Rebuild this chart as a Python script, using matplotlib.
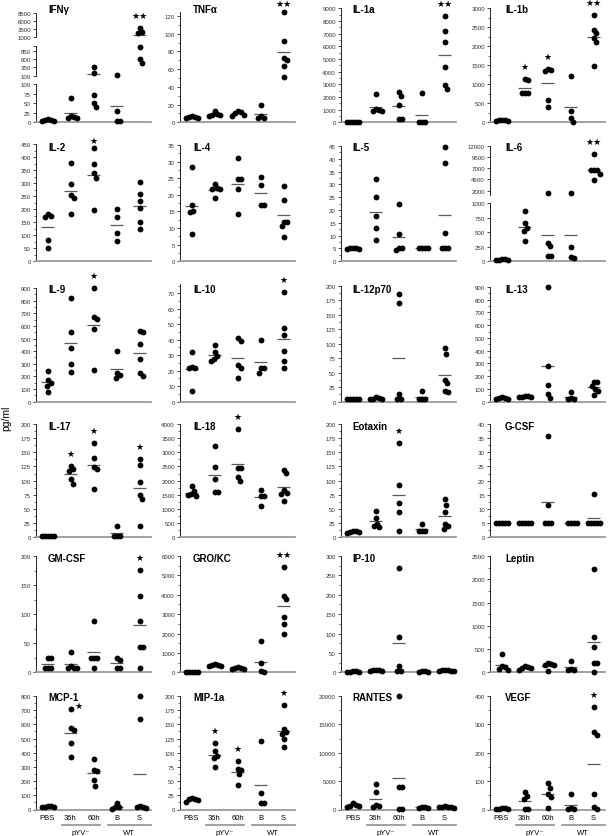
import numpy as np
import matplotlib
matplotlib.use('Agg')
import matplotlib.pyplot as plt
import matplotlib.transforms as mtransforms
from matplotlib.ticker import MultipleLocator, AutoMinorLocator, FixedLocator, FixedFormatter

plt.rcParams['font.family'] = ['Liberation Sans', 'DejaVu Sans']

groups = ['PBS', '36h', '60h', 'B', 'S']

# pg/ml per mouse, groups: PBS, pYV- 36h, pYV- 60h, WT B, WT S
ifng = [[8, 6, 5, 4, 3], [63, 16, 15, 12, 11], [370, 180, 71, 50, 39], [130, 29, 4, 4], [3870, 2600, 2400, 950, 600, 470]]
tnfa = [[7, 6, 6, 5, 5], [13, 9, 8, 8, 7], [12.5, 11.5, 10, 8.5, 7.5], [19, 7, 5, 5], [125, 92, 73, 70, 64, 51]]
il1a = [[30, 20, 20, 10, 10], [2210, 1050, 970, 920, 920], [2420, 2050, 1370, 260, 260], [2290, 50, 20, 10], [8420, 7180, 6370, 4340, 2950, 2630]]
il1b = [[70, 60, 50, 40, 40], [1140, 1105, 780, 770, 760], [1400, 1380, 1360, 600, 410], [1220, 290, 120, 20], [2825, 2430, 2340, 2210, 2120, 1490]]
il2 = [[181, 175, 170, 82, 52], [377, 297, 253, 243, 183], [435, 372, 337, 320, 196], [200, 170, 108, 76], [304, 257, 230, 204, 151, 124]]
il4 = [[28.5, 16.8, 15.2, 14.8, 8.3], [23.2, 22.2, 21.9, 21.7, 18.9], [31.2, 24.9, 24.9, 21.7, 14.2], [25.5, 23.1, 16.9, 16.9], [22.7, 18.5, 11.9, 11.9, 10.5, 7.4]]
il5 = [[5.3, 5, 5, 4.8, 4.8], [32, 25.2, 17.8, 13, 8.5], [22.3, 10.6, 5, 5, 4.6], [5, 5, 5, 5], [44.5, 38.3, 11.2, 5, 5, 5]]
il6 = [[40, 35, 30, 30, 25], [874, 655, 575, 517, 345], [1500, 316, 258, 86, 86], [1440, 245, 69, 52], [10100, 6600, 6500, 6500, 5800, 4300]]
il9 = [[246, 172, 148, 127, 74], [823, 550, 423, 299, 233], [902, 669, 651, 577, 254], [405, 230, 215, 185], [556, 550, 458, 339, 225, 201]]
il10 = [[32, 22.5, 22, 21.7, 7], [36.4, 32.1, 29.3, 27.8, 26.2], [41, 39.5, 23.5, 22, 15.2], [39.7, 21.7, 21.7, 18.6], [71, 47.7, 43, 32.5, 26.2, 21.7]]
il12 = [[5, 5, 5, 5, 5], [8, 6, 5, 5, 5], [186, 171, 13, 5, 5], [18, 5, 5, 5], [93, 83, 38, 32, 18, 17]]
il13 = [[34, 30, 28, 25, 22], [48, 45, 40, 36, 34], [900, 278, 131, 60, 26], [80, 28, 24, 22], [157, 155, 121, 100, 87, 52]]
il17 = [[3, 3, 3, 3, 3], [126, 120, 117, 103, 94], [166, 140, 124, 120, 86], [20, 3, 3, 3], [139, 128, 97, 74, 68, 20]]
il18 = [[1800, 1620, 1520, 1480, 1460], [3210, 2490, 2060, 1600, 1600], [3820, 2460, 2450, 2140, 1990], [1680, 1460, 1450, 1120], [2390, 2270, 1660, 1560, 1540, 1280]]
eotaxin = [[12, 11, 10, 9, 8], [47, 34, 24, 20, 18], [166, 93, 61, 45, 12], [24, 12, 11, 11], [67, 57, 45, 24, 20, 14]]
gcsf = [[5, 5, 5, 5, 5], [5, 5, 5, 5, 5], [35.6, 11.5, 5, 5, 5], [5, 5, 5, 5], [15.3, 5, 5, 5, 5, 5]]
gmcsf = [[25, 25, 8, 8, 8], [35, 10, 8, 8, 8], [88, 25, 25, 25, 8], [25, 21, 8, 8], [176, 131, 88, 44, 44, 8]]
grokc = [[30, 20, 15, 10, 10], [440, 400, 380, 340, 320], [290, 240, 210, 180, 150], [1620, 490, 90, 15], [5430, 3950, 3770, 2830, 2470, 1990]]
ip10 = [[3, 3, 2, 2, 1], [6, 5, 5, 4, 4], [269, 90, 17, 4, 4], [3, 3, 2, 2], [6, 5, 5, 4, 4, 3]]
leptin = [[390, 135, 110, 75, 40], [130, 115, 100, 85, 60], [205, 175, 160, 150, 25], [240, 75, 50, 50], [2230, 760, 540, 195, 190, 15]]
mcp1 = [[25, 22, 20, 18, 15], [707, 572, 560, 471, 373], [357, 280, 273, 205, 168], [47, 20, 15, 2], [800, 637, 22, 18, 15, 12]]
mip1a = [[21, 19, 18, 16, 14], [117, 103, 94, 91, 75], [86, 72, 70, 62, 44], [120, 29, 12, 12], [184, 142, 136, 133, 125, 110]]
rantes = [[1150, 860, 640, 600, 460], [4500, 3060, 870, 640, 460], [20000, 3920, 3920, 30, 30], [520, 480, 320, 220], [600, 520, 480, 420, 380, 300]]
vegf = [[5, 4, 3, 3, 2], [61, 47, 38, 2, 2], [93, 75, 53, 44, 6], [53, 4, 3, 3], [361, 272, 263, 53, 9, 3]]

titles = ['IFNγ', 'TNFα', 'IL-1a', 'IL-1b', 'IL-2', 'IL-4', 'IL-5', 'IL-6',
          'IL-9', 'IL-10', 'IL-12p70', 'IL-13', 'IL-17', 'IL-18', 'Eotaxin', 'G-CSF',
          'GM-CSF', 'GRO/KC', 'IP-10', 'Leptin', 'MCP-1', 'MIP-1a', 'RANTES', 'VEGF']
panels = [ifng, tnfa, il1a, il1b, il2, il4, il5, il6, il9, il10, il12, il13,
          il17, il18, eotaxin, gcsf, gmcsf, grokc, ip10, leptin, mcp1, mip1a, rantes, vegf]
ymax = [8500, 125, 9000, 3000, 450, 35, 45, 12000, 900, 76, 200, 900,
        200, 4000, 200, 40, 200, 6000, 300, 2500, 800, 200, 20000, 400]
ystep = [None, 20, 1000, 500, 50, 5, 5, None, 100, 10, 25, 100,
         25, 500, 25, 5, 50, 1000, 50, 500, 100, 25, 5000, 100]

# significance marks: panel -> (group index, mark)
stars = {'IFNγ': [(4, '★★')], 'TNFα': [(4, '★★')], 'IL-1a': [(4, '★★')],
         'IL-1b': [(1, '★'), (2, '★'), (4, '★★')], 'IL-2': [(2, '★')], 'IL-6': [(4, '★★')],
         'IL-9': [(2, '★')], 'IL-10': [(4, '★')], 'IL-17': [(1, '★'), (2, '★'), (4, '★')],
         'IL-18': [(2, '★')], 'Eotaxin': [(2, '★')], 'GM-CSF': [(4, '★')], 'GRO/KC': [(4, '★★')],
         'MCP-1': [(1, '★')], 'MIP-1a': [(1, '★'), (2, '★'), (4, '★')], 'VEGF': [(4, '★')]}
# marks that sit closer to / beside their top dot (offset points)
star_offset = {('TNFα', 4): (0, 6), ('IL-2', 2): (0, 5.5), ('MCP-1', 1): (5.5, 3)}

# broken axes: value breakpoints -> pixel height above baseline
e = 1e-6
broken = {
    'IFNγ': dict(v=[0, 100, 100 + e, 1000, 1000 + e, 8500], p=[0, 38.3, 46.7, 76.7, 85, 109.3],
                 ticks=[0, 25, 50, 75, 100, 100 + e, 350, 600, 850, 1000, 1000 + e, 3500, 6000, 8500],
                 labels=['0', '25', '50', '75', '100', '100', '350', '600', '850', '', '1000', '3500', '6000', '8500'],
                 segs=[(0, 100), (100 + e, 1000), (1000 + e, 8500)]),
    'IL-6': dict(v=[0, 1000, 1000 + e, 12000], p=[0, 58, 66, 115.7],
                 ticks=[0, 250, 500, 750, 1000, 2000, 4500, 7000, 9500, 12000],
                 labels=['0', '250', '500', '750', '1000', '2000', '4500', '7000', '9500', '12000'],
                 segs=[(0, 1000), (1000 + e, 12000)]),
}

W, H = 608, 837
col_x = [36, 180, 341, 490]
ax_w = 115
title_x = [48, 193, 352, 505]
row_bottom = [123.3, 262.3, 402.7, 538.3, 673.3, 810.5]
title_y = [10, 148, 290, 427, 559, 698]
panel_top = [14, 12.6, 9.3, 9.3, 145, 146, 147, 146.6, 289, 285, 287, 288,
             425, 425, 425, 425, 557, 557, 557, 557, 697, 697, 697, 697]

DOT = 4.2
MEAN_C = '#5a5a5a'
AXIS_C = '#9a9a9a'
TICK_C = '#333333'


def swarm(ypx, wx=3.0, wy=6.0, step=0.5):
    offs = np.zeros(len(ypx))
    placed = []
    cands = [0.0]
    for k in range(1, 80):
        cands += [k * step, -k * step]
    for i in np.argsort(-ypx, kind='stable'):
        for c in cands:
            if all(((c - px) / wx) ** 2 + ((ypx[i] - py) / wy) ** 2 >= 1 for px, py in placed):
                break
        offs[i] = c
        placed.append((c, ypx[i]))
    return offs


fig = plt.figure(figsize=(W / 100, H / 100), dpi=100)

for idx, (name, data) in enumerate(zip(titles, panels)):
    r, c = divmod(idx, 4)
    bottom = row_bottom[r]
    if name in broken:
        top = bottom - broken[name]['p'][-1]
    else:
        top = panel_top[idx]
    ax = fig.add_axes([col_x[c] / W, 1 - bottom / H, ax_w / W, (bottom - top) / H])
    ax.set_xlim(0.5, 5.5)

    if name in broken:
        b = broken[name]
        fwd = lambda y, b=b: np.interp(y, b['v'], b['p'])
        inv = lambda y, b=b: np.interp(y, b['p'], b['v'])
        ax.set_yscale('function', functions=(fwd, inv))
        ax.set_ylim(0, ymax[idx])
        ax.yaxis.set_major_locator(FixedLocator(b['ticks']))
        ax.yaxis.set_major_formatter(FixedFormatter(b['labels']))
        ax.yaxis.set_minor_locator(FixedLocator([]))
        ax.spines['left'].set_visible(False)
        blend = mtransforms.blended_transform_factory(ax.transAxes, ax.transData)
        for lo, hi in b['segs']:
            ax.plot([0, 0], [lo, hi], transform=blend, color='black', lw=0.6, clip_on=False)
    else:
        ax.set_ylim(0, ymax[idx])
        ax.yaxis.set_major_locator(MultipleLocator(ystep[idx]))
        ax.yaxis.set_minor_locator(AutoMinorLocator(2))
        ax.spines['left'].set_linewidth(0.6)

    for s in ['top', 'right']:
        ax.spines[s].set_visible(False)
    ax.spines['bottom'].set_color(AXIS_C)
    ax.spines['bottom'].set_linewidth(1.3)
    ax.tick_params(axis='y', which='major', direction='out', length=2.2, width=0.5,
                   labelsize=4.4, labelcolor=TICK_C, pad=1.5)
    ax.tick_params(axis='y', which='minor', direction='out', length=1.2, width=0.4)
    ax.patch.set_visible(False)

    px_per_unit = ax_w / 5.0
    for g, vals in enumerate(data):
        vals = np.asarray(vals, dtype=float)
        x0 = g + 1
        ypx = ax.transData.transform(np.column_stack([np.full(len(vals), x0), vals]))[:, 1]
        xs = x0 + swarm(ypx) / px_per_unit
        ax.plot(xs, vals, 'o', ms=DOT, color='black', mec='none', clip_on=False, zorder=3)
        ax.hlines(vals.mean(), x0 - 0.28, x0 + 0.28, color=MEAN_C, lw=0.9, zorder=2, clip_on=False)

    for g, mark in stars.get(name, []):
        off = star_offset.get((name, g), (0, 9))
        ax.annotate(mark, xy=(g + 1, max(data[g])), xytext=off, textcoords='offset points',
                    ha='center', va='center', fontsize=6.5, family='DejaVu Sans',
                    annotation_clip=False)

    fig.text(title_x[c] / W, 1 - title_y[r] / H, name, ha='left', va='center',
             fontsize=7, fontweight='bold')

    if r == 5:
        ax.set_xticks(range(1, 6))
        ax.set_xticklabels(groups, fontsize=5.5)
        ax.tick_params(axis='x', length=0, pad=3)
        h = bottom - top
        tr = mtransforms.blended_transform_factory(ax.transData, ax.transAxes)
        ax.plot([1.63, 3.28], [-15.5 / h] * 2, transform=tr, color=AXIS_C, lw=1.3, clip_on=False)
        ax.plot([3.63, 5.5], [-15.5 / h] * 2, transform=tr, color=AXIS_C, lw=1.3, clip_on=False)
        ax.text(2.45, -23 / h, 'pYV⁻', transform=tr, ha='center', va='center', fontsize=5.5)
        ax.text(4.55, -23 / h, 'WT', transform=tr, ha='center', va='center', fontsize=5.5)
    else:
        ax.set_xticks([])

fig.text(6 / W, 1 - 418 / H, 'pg/ml', rotation=90, ha='center', va='center', fontsize=7.5)

fig.savefig('out.png', dpi=100)
